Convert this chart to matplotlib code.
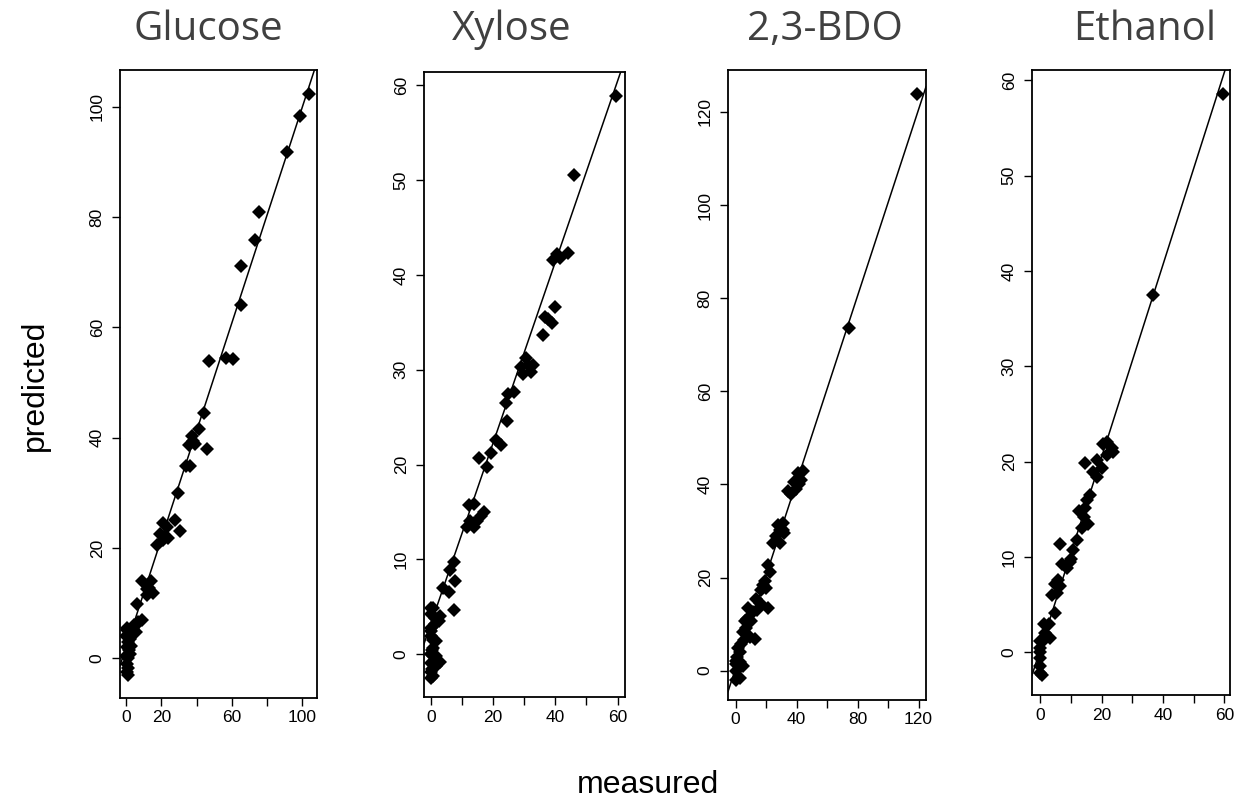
import numpy as np
import matplotlib
matplotlib.use("Agg")
import matplotlib.pyplot as plt

# values
titles = ["Glucose", "Xylose", "2,3-BDO", "Ethanol"]

glucose_measured = [103.8, 98.9, 91.3, 75.5, 73.0, 65.1, 65.1, 56.6, 60.4, 47.2, 44.2, 41.3, 37.2, 39.1,
                    35.8, 46.0, 34.0, 36.2, 29.6, 30.6, 27.7, 20.8, 23.4, 19.2, 24.0, 17.7, 21.0, 14.2,
                    9.2, 11.7, 15.1, 11.7, 6.0, 8.9, 6.0, 4.2, 2.3, 0.4,
                    0.5, 1.5, 0.2, 1.0, 2.5, 3.5, 0.3, 1.5, 0.2, 1.0, 0.4, 1.2, 0.3, 1.0, 2.0, 4.5,
                    3.0, 5.5, 7.0, 22.0, 38.0, 13.0]
glucose_predicted = [102.4, 98.4, 91.9, 81.0, 75.9, 71.2, 64.1, 54.5, 54.2, 53.9, 44.4, 41.6, 40.4, 38.9,
                     38.6, 38.0, 34.8, 34.8, 29.9, 23.0, 25.0, 24.6, 23.8, 22.6, 21.9, 20.6, 21.4, 14.0,
                     14.0, 12.6, 11.8, 11.4, 9.8, 6.9, 6.3, 5.5, 4.4, 5.2,
                     5.5, 5.0, 4.0, 3.0, 3.5, 4.5, 2.0, 1.5, 0.5, 0.0, -1.0, -1.8, -2.5, -3.0, 0.8, 6.0,
                     2.2, 4.8, 6.5, 22.2, 39.5, 12.8]

xylose_measured = [59.5, 45.9, 44.2, 40.4, 39.3, 41.5, 39.9, 36.1, 37.7, 36.6, 38.8, 31.2, 32.3, 29.6,
                   29.1, 30.7, 32.8, 26.8, 24.7, 24.1, 24.5, 22.5, 20.9, 19.2, 15.4, 18.2, 17.1, 13.8,
                   12.2, 14.9, 12.7, 11.6, 13.8, 7.3, 6.2, 7.8, 5.7, 4.0, 7.3, 0.8, 3.0, 1.3, 0.2,
                   1.8, 0.8, 2.4, 0.2, 0.0, 0.8, 0.0, 0.0, 0.2,
                   0.0, 0.5, 1.0, 0.3, 1.5, 0.2, 0.8, 1.2, 2.5, 0.0, 1.8, 3.0, 0.0, 14.0, 16.0]
xylose_predicted = [58.9, 50.5, 42.3, 42.2, 41.6, 41.8, 36.6, 33.7, 35.4, 35.6, 34.9, 30.5, 29.8, 29.6,
                    30.3, 31.2, 30.5, 27.7, 27.5, 26.5, 24.6, 22.1, 22.6, 21.2, 20.7, 19.8, 15.0, 15.9,
                    15.7, 14.1, 14.1, 13.4, 13.4, 9.7, 8.9, 7.7, 6.6, 7.0, 4.7, 4.9, 4.0, 3.8, 2.8,
                    1.4, 0.7, -0.7, -0.9, -1.9, -2.3, 0.0, 1.9, 4.2,
                    0.0, 0.5, -1.0, -1.5, -1.2, 2.5, 1.5, 3.2, 3.5, -2.5, -0.2, -0.8, 4.9, 13.8, 14.6]

bdo_measured = [118.8, 74.7, 40.8, 44.1, 38.6, 41.9, 36.5, 39.7, 34.3, 31.0, 28.8, 26.6, 28.8, 24.5,
                31.0, 28.0, 21.2, 22.3, 19.0, 20.1, 16.8, 21.2, 13.5, 15.7, 11.4, 8.1, 10.3, 6.0,
                7.0, 9.2, 12.4, 4.8, 3.7, 1.5, 2.6, 4.8, 0.0, 0.0, 0.4, 2.6, 1.0, 0.5, 3.0, 5.5,
                43.0, 32.0, 18.0, 14.0, 7.5]
bdo_predicted = [123.8, 73.6, 42.4, 42.9, 40.5, 40.0, 38.0, 39.0, 38.5, 31.8, 30.3, 28.9, 27.5, 27.5,
                 30.3, 31.2, 22.6, 21.2, 19.3, 17.8, 17.3, 13.5, 15.4, 14.5, 12.5, 13.5, 10.6, 10.6,
                 9.2, 7.2, 6.7, 8.2, 5.8, 4.8, 1.9, 1.0, 0.0, 1.5, -1.9, -1.5, 3.0, 2.0, 4.0, 6.5,
                 41.0, 29.5, 18.5, 13.0, 11.0]

ethanol_measured = [59.5, 36.8, 21.6, 23.2, 20.5, 23.8, 21.8, 14.6, 18.4, 17.3, 20.0, 18.4, 16.2, 15.1,
                    14.6, 14.1, 15.7, 13.5, 11.9, 10.8, 9.7, 6.5, 7.0, 8.6, 4.9, 6.5, 3.8, 5.4, 5.9,
                    4.9, 2.7, 1.1, 1.6, 3.2, 0.5, 0.0, 0.0, 0.0, 0.0, 0.5, 0.0, 0.0, 12.5, 10.0]
ethanol_predicted = [58.6, 37.5, 22.1, 21.4, 21.8, 21.0, 20.7, 19.8, 20.2, 18.9, 19.3, 18.4, 16.5, 16.0,
                     15.1, 14.2, 13.5, 13.0, 11.8, 10.7, 9.5, 11.4, 9.3, 8.8, 7.2, 6.9, 6.0, 6.2, 7.6,
                     4.1, 2.9, 2.9, 2.0, 1.5, 1.1, 0.4, -0.6, -1.5, -2.2, -2.4, 1.2, 0.0, 14.8, 9.8]

# straight reference line drawn through each panel
fit_intercept = [2.0, 3.2, 0.5, 0.3]
fit_slope = [0.98, 0.954, 1.0, 1.01]

x_ticks = [[0, 20, 40, 60, 80, 100], [0, 10, 20, 30, 40, 50, 60],
           [0, 20, 40, 60, 80, 100, 120], [0, 10, 20, 30, 40, 50, 60]]
x_tick_labels = [["0", "20", "", "60", "", "100"], ["0", "", "20", "", "40", "", "60"],
                 ["0", "", "40", "", "80", "", "120"], ["0", "", "20", "", "40", "", "60"]]
y_ticks = [[0, 20, 40, 60, 80, 100], [0, 10, 20, 30, 40, 50, 60],
           [0, 20, 40, 60, 80, 100, 120], [0, 10, 20, 30, 40, 50, 60]]

measured = [glucose_measured, xylose_measured, bdo_measured, ethanol_measured]
predicted = [glucose_predicted, xylose_predicted, bdo_predicted, ethanol_predicted]

# panel boxes in pixels: left, right, top, bottom
W, H = 1236, 802
boxes = [(120, 317, 70, 698), (424, 625, 72, 697), (728, 926, 70, 700), (1032, 1230, 70, 695)]
xlims = [(-3.4, 108.3), (-2.2, 62.4), (-5.0, 124.9), (-2.7, 61.8)]
ylims = [(-7.2, 106.7), (-4.5, 61.4), (-6.3, 129.0), (-4.5, 61.1)]
title_x = [208, 512, 825, 1145]

plt.rcParams["font.family"] = ["Liberation Sans", "DejaVu Sans"]

fig = plt.figure(figsize=(W / 100, H / 100), dpi=100)

for i in range(4):
    l, r, t, b = boxes[i]
    ax = fig.add_axes([l / W, 1 - b / H, (r - l) / W, (b - t) / H])
    ax.plot(measured[i], predicted[i], "D", color="black", ms=7, mew=0)
    ax.axline((0, fit_intercept[i]), slope=fit_slope[i], color="black", lw=1.1)
    ax.set_xlim(xlims[i])
    ax.set_ylim(ylims[i])
    ax.set_xticks(x_ticks[i])
    ax.set_xticklabels(x_tick_labels[i], fontsize=12.5)
    ax.set_yticks(y_ticks[i])
    ax.set_yticklabels([str(v) for v in y_ticks[i]], fontsize=12.5, rotation=90, va="center")
    ax.tick_params(direction="out", length=6, width=1)
    ax.tick_params(axis="x", pad=3)
    ax.tick_params(axis="y", pad=5)
    for s in ax.spines.values():
        s.set_linewidth(1.3)
    fig.text(title_x[i] / W, 1 - 30 / H, titles[i], family="Open Sans", fontsize=29,
             color="#404040", ha="center", va="center")

fig.text(35 / W, 1 - 385 / H, "predicted", fontsize=23, rotation=90, ha="center", va="center")
fig.text(648 / W, 1 - 785 / H, "measured", fontsize=23, ha="center", va="center")

fig.savefig("out.png", dpi=100)
